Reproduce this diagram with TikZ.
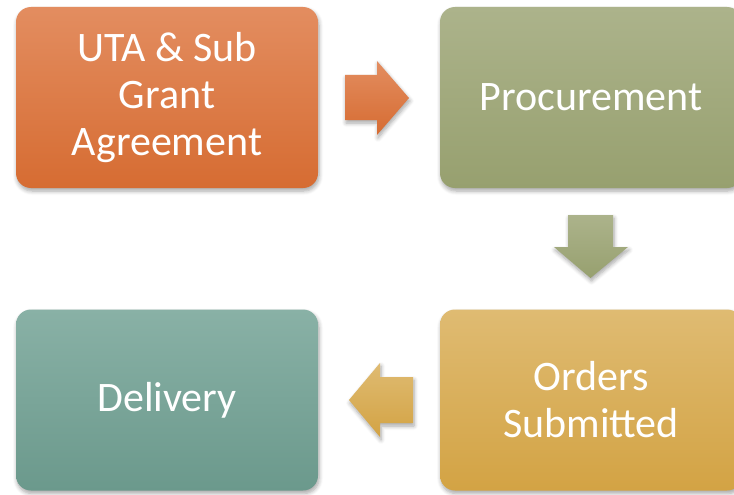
\documentclass[tikz,border=0pt]{standalone}
\usepackage{fontspec}
\setmainfont{Carlito}
\usetikzlibrary{shadows.blur}
\definecolor{orT}{HTML}{E38D60}
\definecolor{orB}{HTML}{D66C32}
\definecolor{grT}{HTML}{ACB38B}
\definecolor{grB}{HTML}{97A06F}
\definecolor{teT}{HTML}{89B1A6}
\definecolor{teB}{HTML}{6B998C}
\definecolor{goT}{HTML}{DFBB72}
\definecolor{goB}{HTML}{D3A344}
\tikzset{
  box/.style={rounded corners=15pt, minimum width=302pt, minimum height=181pt,
    inner sep=0pt, text=white, align=center,
    font=\fontsize{42}{47}\selectfont,
    blur shadow={shadow xshift=1pt, shadow yshift=-3pt, shadow blur steps=6, shadow blur radius=4pt, shadow opacity=35}},
  blockarrow/.style={blur shadow={shadow xshift=1pt, shadow yshift=-3pt, shadow blur steps=6, shadow blur radius=4pt, shadow opacity=35}}
}
\begin{document}
\begin{tikzpicture}[x=1pt,y=-1pt]
\useasboundingbox (0,0) rectangle (734,495);
\begin{scope}
\clip (0,0) rectangle (734,495);
\node[box, top color=orT, bottom color=orB] (uta) at (167,97.5) {UTA \& Sub\\Grant\\Agreement};
\node[box, top color=grT, bottom color=grB] (proc) at (591,97.5) {Procurement};
\node[box, top color=goT, bottom color=goB] (orders) at (591,400) {Orders\\Submitted};
\node[box, top color=teT, bottom color=teB] (deliv) at (167,400) {Delivery};
\path[blockarrow, top color=orT, bottom color=orB]
  (345,75) -- (377,75) -- (377,61) -- (409,98) -- (377,135) -- (377,120) -- (345,120) -- cycle;
\path[blockarrow, top color=grT, bottom color=grB]
  (568,215) -- (613,215) -- (613,247) -- (628,247) -- (590.5,278) -- (554,247) -- (568,247) -- cycle;
\path[blockarrow, top color=goT, bottom color=goB]
  (413,377) -- (380,377) -- (380,363) -- (349,400) -- (380,437) -- (380,423) -- (413,423) -- cycle;
\end{scope}
\end{tikzpicture}
\end{document}
